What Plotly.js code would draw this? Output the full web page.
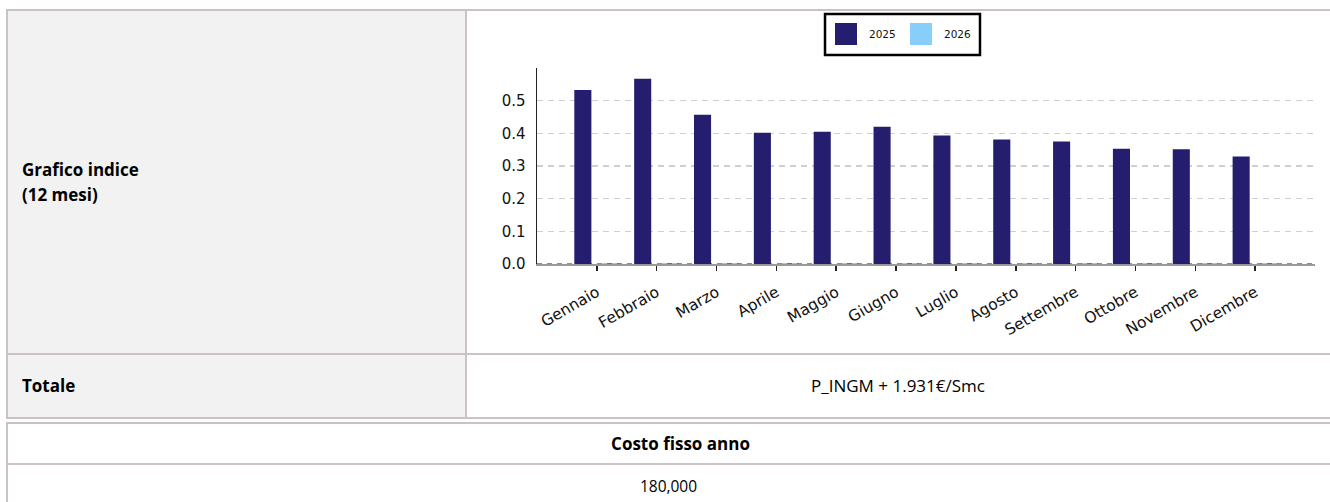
<!DOCTYPE html>
<html>
<head>
<meta charset="utf-8">
<script src="https://cdn.plot.ly/plotly-3.0.1.min.js"></script>
<style>
  html, body { margin: 0; padding: 0; background: #ffffff; width: 1330px; height: 502px; overflow: hidden; }
  .cell { position: absolute; box-sizing: border-box; font-family: "Open Sans", sans-serif; color: #000; }
  .hline { position: absolute; height: 2px; background: #cbc3c3; }
  .vline { position: absolute; width: 2px; background: #cbc3c3; }
  .lbl { position: absolute; font-family: "Open Sans", sans-serif; font-size: 17px; line-height: 25px; color: #000; white-space: nowrap; box-sizing: border-box; }
  .b { font-weight: 700; }
</style>
</head>
<body>
<!-- table 1 backgrounds -->
<div class="cell" style="left:7px; top:10px; width:459px; height:408px; background:#f2f2f2;"></div>
<!-- table 1 borders -->
<div class="hline" style="left:7px; top:9px; width:1323px;"></div>
<div class="hline" style="left:7px; top:353px; width:1323px;"></div>
<div class="hline" style="left:7px; top:417px; width:1323px;"></div>
<div class="vline" style="left:6px; top:9px; height:410px;"></div>
<div class="vline" style="left:465px; top:9px; height:410px;"></div>
<!-- table 2 borders -->
<div class="hline" style="left:7px; top:422px; width:1323px;"></div>
<div class="hline" style="left:7px; top:463px; width:1323px;"></div>
<div class="vline" style="left:6px; top:422px; height:90px;"></div>

<div class="lbl b" style="left:22px; top:157px;">Grafico indice<br>(12 mesi)</div>
<div class="lbl b" style="left:22px; top:373px;">Totale</div>
<div class="lbl" style="left:467px; width:862px; text-align:center; top:373px;">P_INGM + 1.931€/Smc</div>
<div class="lbl b" style="left:7px; width:1323px; padding-left:24px; text-align:center; top:431px;">Costo fisso anno</div>
<div class="lbl" style="left:7px; width:1323px; text-align:center; top:474px; font-size:15.5px;">180,000</div>

<div id="chart" style="position:absolute; left:467px; top:11px; width:862px; height:342px;"></div>

<script>
const months = ["Gennaio","Febbraio","Marzo","Aprile","Maggio","Giugno","Luglio","Agosto","Settembre","Ottobre","Novembre","Dicembre"];
const values2025 = [0.533, 0.567, 0.457, 0.402, 0.405, 0.420, 0.393, 0.381, 0.375, 0.353, 0.351, 0.329];
const values2026 = [0, 0, 0, 0, 0, 0, 0, 0, 0, 0, 0, 0];
const seriesNames = ["2025", "2026"];
const yTicks = [0, 0.1, 0.2, 0.3, 0.4, 0.5];

const colDark = "#251e6f";
const colLight = "#87cefa";

const traces = [
  { type: "bar", name: seriesNames[0], x: months, y: values2025, marker: { color: colDark }, hoverinfo: "skip" },
  { type: "bar", name: seriesNames[1], x: months, y: values2026, marker: { color: colLight, line: { color: colLight, width: 2 } }, hoverinfo: "skip" }
];

// legend drawn in paper coordinates
const lg = { x0: 0.3702, x1: 0.5694, y0: 1.0663, y1: 1.2755 };
const shapes = [
  { type: "line", xref: "paper", x0: 0, x1: 1, yref: "y", y0: 0, y1: 0,
    line: { color: "#222222", width: 1, dash: "5px,5px" }, layer: "above" },
  { type: "rect", xref: "paper", yref: "paper", x0: lg.x0, x1: lg.x1, y0: lg.y0, y1: lg.y1,
    line: { color: "#000000", width: 2.5 }, fillcolor: "#ffffff" },
  { type: "rect", xref: "paper", yref: "paper", x0: 0.3830, x1: 0.4113, y0: 1.1173, y1: 1.2296,
    line: { width: 0 }, fillcolor: colDark },
  { type: "rect", xref: "paper", yref: "paper", x0: 0.4794, x1: 0.5077, y0: 1.1173, y1: 1.2296,
    line: { width: 0 }, fillcolor: colLight }
];
const annotations = [
  { xref: "paper", yref: "paper", x: 0.4245, y: 1.1735, text: seriesNames[0], showarrow: false,
    xanchor: "left", yanchor: "middle", font: { family: "DejaVu Sans", size: 10.5, color: "#111" } },
  { xref: "paper", yref: "paper", x: 0.5212, y: 1.1735, text: seriesNames[1], showarrow: false,
    xanchor: "left", yanchor: "middle", font: { family: "DejaVu Sans", size: 10.5, color: "#111" } }
];

const layout = {
  width: 862, height: 342,
  margin: { l: 70, r: 14, t: 57, b: 89 },
  paper_bgcolor: "rgba(0,0,0,0)",
  plot_bgcolor: "#ffffff",
  barmode: "group",
  bargap: 0.064,
  bargroupgap: 0.39,
  showlegend: false,
  xaxis: {
    type: "category", range: [-1, 12],
    showline: true, linecolor: "#999999", linewidth: 1.5,
    ticks: "outside", ticklen: 5, tickwidth: 1.5, tickcolor: "#222222",
    ticklabelstandoff: 7,
    tickangle: -30, tickfont: { family: "DejaVu Sans", size: 15.5, color: "#111111" },
    showgrid: false, zeroline: false, fixedrange: true
  },
  yaxis: {
    range: [0, 0.6], tickvals: yTicks, tickformat: ".1f",
    showline: true, linecolor: "#222222", linewidth: 1.5,
    ticks: "", ticklabelstandoff: 7,
    tickfont: { family: "DejaVu Sans", size: 15, color: "#111111" },
    showgrid: true, gridcolor: "#cfcfcf", gridwidth: 1.5, griddash: "6px,5px",
    zeroline: false, fixedrange: true
  },
  shapes: shapes,
  annotations: annotations
};

Plotly.newPlot("chart", traces, layout, { displayModeBar: false, staticPlot: true });
</script>
</body>
</html>
